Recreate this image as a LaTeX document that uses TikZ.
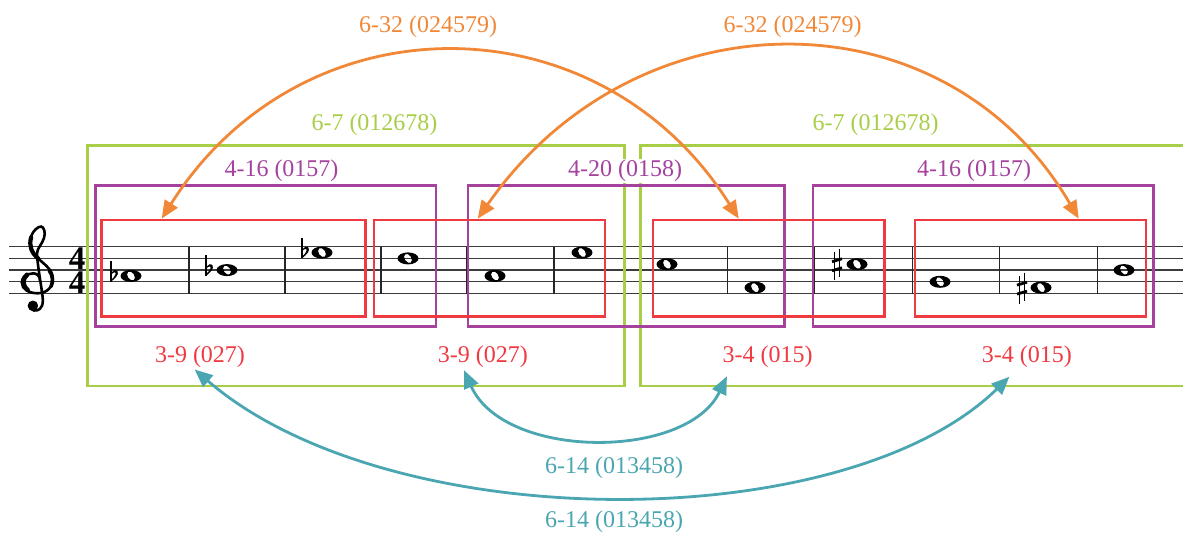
\documentclass[tikz,border=0pt]{standalone}
\usepackage{fontspec}
\setmainfont{Liberation Serif}
\usetikzlibrary{arrows.meta,calc}

\definecolor{setorange}{RGB}{240,136,56}
\definecolor{setgreen}{RGB}{168,206,72}
\definecolor{setpurple}{RGB}{164,66,158}
\definecolor{setred}{RGB}{240,58,66}
\definecolor{setteal}{RGB}{74,166,176}
\definecolor{staffgray}{RGB}{60,60,60}

\tikzset{
  frame/.style={draw, line width=2.6pt},
  gbox/.style={frame, draw=setgreen},
  pbox/.style={frame, draw=setpurple},
  rbox/.style={frame, draw=setred},
  lbl/.style={font=\fontsize{24}{24}\selectfont, inner sep=1pt},
  link/.style={line width=2.8pt,
    {Triangle[length=18pt,width=15pt]}-{Triangle[length=18pt,width=15pt]}},
  staffline/.style={draw=staffgray, line width=1.3pt},
  barline/.style={draw=black!85, line width=1.3pt},
  timesig/.style={font=\fontsize{33}{23.4}\selectfont\bfseries, inner sep=0,
    align=center, anchor=north},
  wholenote/.pic={
    \fill[even odd rule] (0,0) circle[x radius=10.5, y radius=6]
      (0,0) circle[x radius=3.3, y radius=5, rotate=35];
  },
  flatsign/.pic={
    \draw[line width=1.3pt] (0,-15) -- (0,5.8);
    \fill (0,5.8) .. controls (4,2.5) and (8.5,-1.5) .. (6.5,-4.8)
      .. controls (5,-7) and (1.5,-5.5) .. (0,-3) -- (0,-1)
      .. controls (2,-4) and (5,-4.5) .. (4.6,-2)
      .. controls (4.2,0.2) and (1.8,2.6) .. (0,4) -- cycle;
  },
  sharpsign/.pic={
    \draw[line width=1.2pt] (-2.6,-12) -- (-2.6,16);
    \draw[line width=1.2pt] (2.6,-15) -- (2.6,13);
    \draw[line width=2.8pt] (-5,-2.5) -- (5,-5.5);
    \draw[line width=2.8pt] (-5,6.5) -- (5,3.5);
  },
}

\begin{document}
\begin{tikzpicture}[x=1pt,y=-1pt]
\useasboundingbox (0,0) rectangle (1183,533);
\clip (0,0) rectangle (1183,533);

% staff
\foreach \yy in {246.7,258.4,270.1,281.8,293.5}
  \draw[staffline] (9,\yy) -- (1183,\yy);
\foreach \xx in {189,285,381,467,554,640,727.5,814.5,912.5,999.5,1097.5}
  \draw[barline] (\xx,246.7) -- (\xx,293.5);

% treble clef
\begin{scope}[shift={(37,293.5)}, x=11.7pt, y=11.7pt]
  \draw[line width=2.6pt, line cap=round]
    (0.25,1.05) .. controls (0.3,1.55) and (-0.1,1.75) .. (-0.35,1.72)
    .. controls (-0.95,1.68) and (-1.3,1.35) .. (-1.3,0.95)
    .. controls (-1.3,0.35) and (-0.65,0.02) .. (0.05,0.02)
    .. controls (0.85,0.02) and (1.35,0.55) .. (1.35,1.25)
    .. controls (1.35,2.0) and (0.75,2.4) .. (0.2,2.9)
    .. controls (-0.5,3.5) and (-0.75,4.1) .. (-0.5,4.9)
    .. controls (-0.35,5.35) and (0.1,5.75) .. (0.35,5.72)
    .. controls (0.6,5.7) and (0.75,5.2) .. (0.6,4.75)
    .. controls (0.45,4.2) and (0.0,3.9) .. (0.0,3.4)
    .. controls (0.05,2.2) and (0.5,0.0) .. (0.5,-0.6)
    .. controls (0.5,-1.3) and (0.1,-1.5) .. (-0.25,-1.45)
    .. controls (-0.5,-1.4) and (-0.6,-1.25) .. (-0.6,-1.1);
  \draw[line width=4.6pt, line cap=round]
    (-0.85,1.6) .. controls (-1.25,1.3) and (-1.3,0.7) .. (-0.8,0.3);
  \draw[line width=4.2pt, line cap=round]
    (0.1,3.0) .. controls (-0.5,3.5) and (-0.7,4.1) .. (-0.5,4.8);
  \draw[line width=3.6pt, line cap=round]
    (1.2,0.6) .. controls (1.4,1.0) and (1.35,1.6) .. (1.05,1.95);
  \fill (-0.35,-1.05) circle (0.45);
\end{scope}

% time signature
\node[timesig] (ts) at (77,247.8) {4\\4};

% notes
\pic at (111,275.95) {flatsign};   \pic at (131,275.95) {wholenote};
\pic at (206,270.1) {flatsign};    \pic at (227,270.1) {wholenote};
\pic at (302,252.55) {flatsign};   \pic at (322,252.55) {wholenote};
\pic at (408,258.4) {wholenote};
\pic at (495,275.95) {wholenote};
\pic at (582,252.55) {wholenote};
\pic at (667,264.25) {wholenote};
\pic at (755,287.65) {wholenote};
\pic at (837,264.25) {sharpsign};  \pic at (857,264.25) {wholenote};
\pic at (940,281.8) {wholenote};
\pic at (1022,287.65) {sharpsign}; \pic at (1041,287.65) {wholenote};
\pic at (1124,270.1) {wholenote};

% hexachord frames
\node[gbox, minimum width=536.6pt, minimum height=240.3pt] (g1) at (356,265.85) {};
\node[gbox, minimum width=559.3pt, minimum height=240.3pt] (g2) at (920.35,265.85) {};
% tetrachord frames
\node[pbox, minimum width=340.5pt, minimum height=141pt] (p1) at (265.75,256.2) {};
\node[pbox, minimum width=316.5pt, minimum height=141pt] (p2) at (626.25,256.2) {};
\node[pbox, minimum width=340.5pt, minimum height=141pt] (p3) at (983.25,256.2) {};
% trichord frames
\node[rbox, minimum width=264pt, minimum height=96.7pt] (r1) at (233.7,268.35) {};
\node[rbox, minimum width=231pt, minimum height=96.7pt] (r2) at (489.5,268.35) {};
\node[rbox, minimum width=231.5pt, minimum height=96.7pt] (r3) at (768.75,268.35) {};
\node[rbox, minimum width=231pt, minimum height=96.7pt] (r4) at (1030.5,268.35) {};

% set-class labels
\node[lbl, text=setgreen] (lg1) at (374.5,125) {6-7 (012678)};
\node[lbl, text=setgreen] (lg2) at (875.5,125) {6-7 (012678)};
\node[lbl, text=setpurple] (lp1) at (281.5,171) {4-16 (0157)};
\node[lbl, text=setpurple, fill=white] (lp2) at (625,171) {4-20 (0158)};
\node[lbl, text=setpurple] (lp3) at (974,171) {4-16 (0157)};
\node[lbl, text=setred] (lr1) at (200,356.7) {3-9 (027)};
\node[lbl, text=setred] (lr2) at (482.8,356.7) {3-9 (027)};
\node[lbl, text=setred] (lr3) at (767.6,356.7) {3-4 (015)};
\node[lbl, text=setred] (lr4) at (1026.8,356.7) {3-4 (015)};
\node[lbl, text=setorange] (lo1) at (428,26.7) {6-32 (024579)};
\node[lbl, text=setorange] (lo2) at (792.5,26.7) {6-32 (024579)};
\node[lbl, text=setteal] (lt1) at (614,468) {6-14 (013458)};
\node[lbl, text=setteal] (lt2) at (614,521.7) {6-14 (013458)};

% orange links between trichord frames
\draw[link, setorange] ([xshift=61.3pt]r1.north west)
  .. controls +(140,-222) and +(-140,-222) .. ([xshift=87pt]r3.north west);
\draw[link, setorange] ([xshift=105pt]r2.north west)
  .. controls +(159,-228) and +(-133,-228) .. ([xshift=165pt]r4.north west);

% teal links between trichord labels
\draw[link, setteal] ($(lr2.south)+(-18.8,1.4)$)
  .. controls +(40,90) and +(-40,84) .. ($(lr3.south west)+(5.5,7.5)$);
\draw[link, setteal] ($(lr1.south)+(-5.4,0.7)$)
  .. controls +(195,168) and +(-165,161) .. ($(lr4.south)+(-17.4,8)$);
\end{tikzpicture}
\end{document}
